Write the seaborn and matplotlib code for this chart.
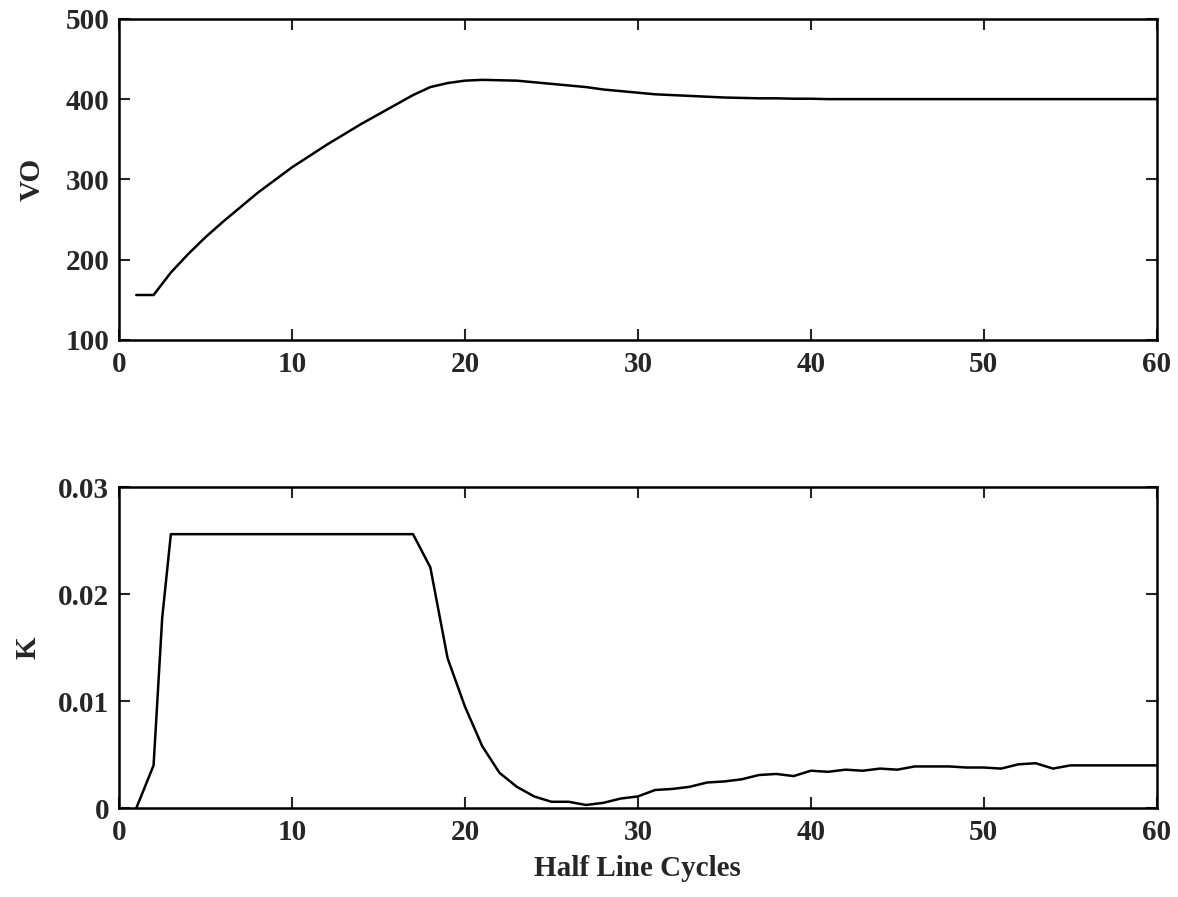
import matplotlib
matplotlib.use("Agg")
import matplotlib.pyplot as plt
import seaborn as sns
import pandas as pd

# ---- data ----
cycles_vo = list(range(1, 61))
vo_values = [156, 156, 184, 207, 228, 247, 265, 283, 299, 315,
             329, 343, 356, 369, 381, 393, 405, 415, 420, 423,
             424, 423.5, 423, 421, 419, 417, 415, 412, 410, 408,
             406, 405, 404, 403, 402, 401.5, 401, 401, 400.5, 400.5,
             400, 400, 400, 400, 400, 400, 400, 400, 400, 400,
             400, 400, 400, 400, 400, 400, 400, 400, 400, 400]

cycles_k = [1, 2, 2.5] + list(range(3, 61))
k_values = [0.0, 0.0040, 0.0178,
            0.0256, 0.0256, 0.0256, 0.0256, 0.0256, 0.0256, 0.0256, 0.0256,
            0.0256, 0.0256, 0.0256, 0.0256, 0.0256, 0.0256, 0.0256,
            0.0225, 0.0140, 0.0095, 0.0058, 0.0033, 0.0020, 0.0011, 0.0006,
            0.0006, 0.0003, 0.0005, 0.0009, 0.0011, 0.0017, 0.0018, 0.0020,
            0.0024, 0.0025, 0.0027, 0.0031, 0.0032, 0.0030, 0.0035, 0.0034,
            0.0036, 0.0035, 0.0037, 0.0036, 0.0039, 0.0039, 0.0039, 0.0038,
            0.0038, 0.0037, 0.0041, 0.0042, 0.0037, 0.0040, 0.0040, 0.0040,
            0.0040, 0.0040, 0.0040]

x_ticks = [0, 10, 20, 30, 40, 50, 60]
vo_ticks = [100, 200, 300, 400, 500]
k_ticks = [0, 0.01, 0.02, 0.03]
k_ticklabels = ["0", "0.01", "0.02", "0.03"]
vo_ticklabels = ["100", "200", "300", "400", "500"]
x_label = "Half Line Cycles"
vo_label = "VO"
k_label = "K"

# ---- style ----
sns.set_style("ticks")
plt.rcParams["font.family"] = ["Liberation Serif", "DejaVu Serif"]
plt.rcParams["font.weight"] = "bold"
plt.rcParams["axes.labelweight"] = "bold"

df_vo = pd.DataFrame({"x": cycles_vo, "y": vo_values})
df_k = pd.DataFrame({"x": cycles_k, "y": k_values})

fig = plt.figure(figsize=(11.78, 8.97), dpi=100)
ax1 = fig.add_axes([0.101, 0.621, 0.881, 0.358])
ax2 = fig.add_axes([0.101, 0.099, 0.881, 0.358])

sns.lineplot(data=df_vo, x="x", y="y", ax=ax1, color="black", linewidth=1.8)
sns.lineplot(data=df_k, x="x", y="y", ax=ax2, color="black", linewidth=1.8)

fs = 21
for ax in (ax1, ax2):
    ax.set_xlim(0, 60)
    ax.set_xticks(x_ticks)
    ax.set_xticklabels([str(t) for t in x_ticks], fontsize=fs, fontweight="bold")
    ax.tick_params(direction="in", top=True, right=True, length=8, width=1.5)
    ax.tick_params(axis="x", pad=8)
    ax.tick_params(axis="y", pad=7)
    for s in ax.spines.values():
        s.set_visible(True)
        s.set_linewidth(1.8)
        s.set_color("black")

ax1.set_ylim(100, 500)
ax1.set_yticks(vo_ticks)
ax1.set_yticklabels(vo_ticklabels, fontsize=fs, fontweight="bold")
ax1.set_xlabel("")
ax1.set_ylabel(vo_label, fontsize=fs, fontweight="bold", labelpad=14)

ax2.set_ylim(0, 0.03)
ax2.set_yticks(k_ticks)
ax2.set_yticklabels(k_ticklabels, fontsize=fs, fontweight="bold")
ax2.set_xlabel(x_label, fontsize=fs, fontweight="bold", labelpad=6)
ax2.set_ylabel(k_label, fontsize=fs, fontweight="bold", labelpad=12)

fig.savefig("out.png", dpi=100, facecolor="white")
